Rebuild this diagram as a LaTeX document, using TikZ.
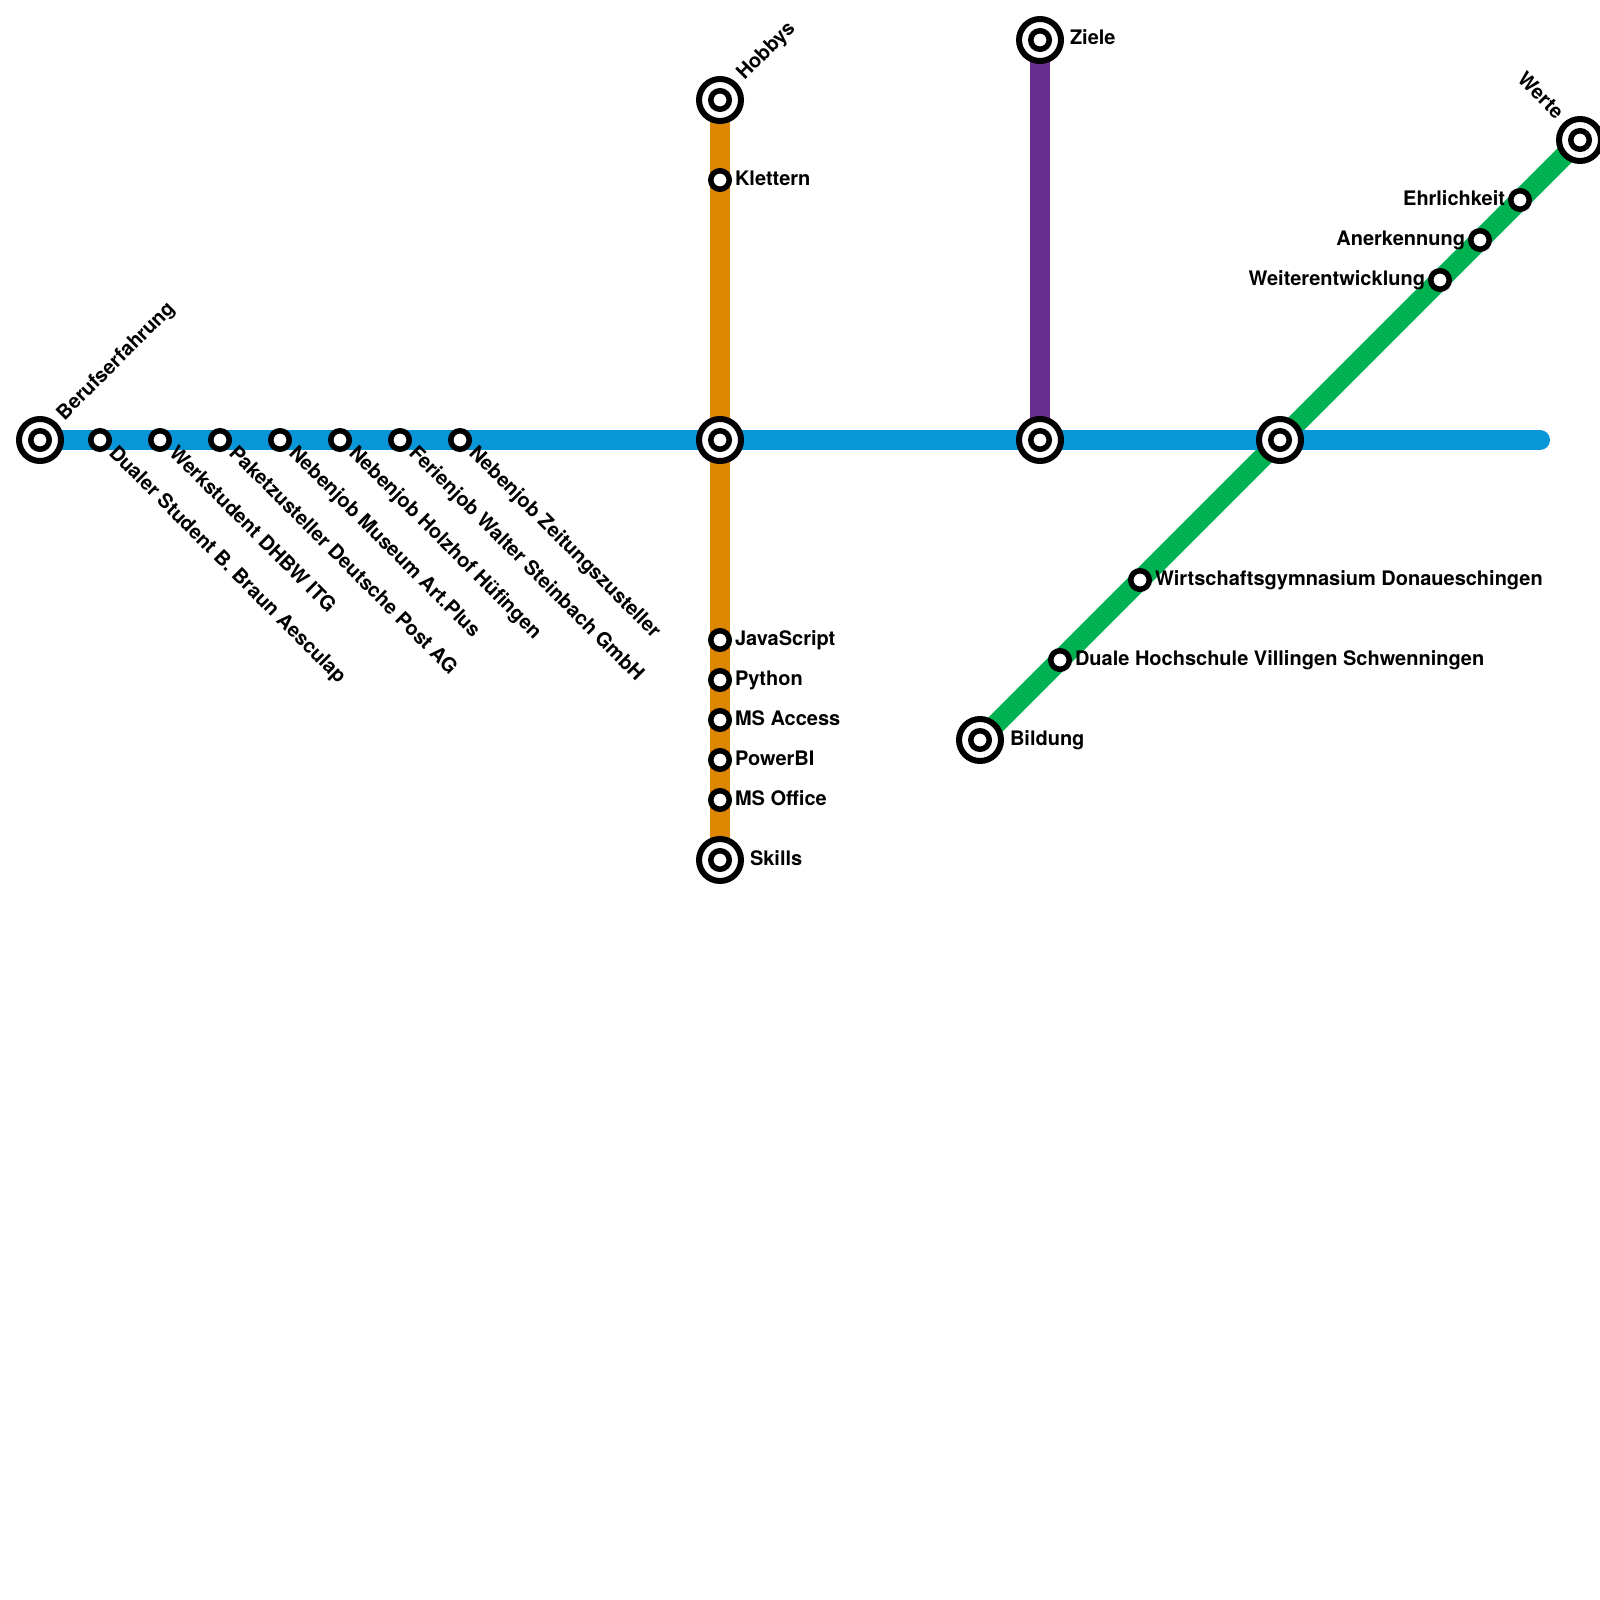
\documentclass[tikz,border=0pt]{standalone}
\usepackage{fontspec}
\usetikzlibrary{calc}
\setmainfont{TeX Gyre Heros}
\definecolor{lblue}{HTML}{0896D7}
\definecolor{lorange}{HTML}{DF8600}
\definecolor{lpurple}{HTML}{662C90}
\definecolor{lgreen}{HTML}{00B251}
\tikzset{
  stn/.style={circle,draw=black,fill=white,line width=5.5pt,inner sep=0pt,outer sep=0pt,minimum size=18.5pt},
  bigstn/.style={circle,draw=black,fill=white,line width=6pt,inner sep=0pt,outer sep=0pt,minimum size=42pt},
  metro/.style={line width=20pt},
  lbl/.style={inner sep=0pt,outer sep=0pt,font=\fontsize{20pt}{22pt}\selectfont\bfseries,text=black},
  lr/.style={lbl,anchor=base west},
  ll/.style={lbl,anchor=base east},
  ldown/.style={lbl,anchor=base west,rotate=-45},
  lup/.style={lbl,anchor=base west,rotate=45},
  lback/.style={lbl,anchor=base east,rotate=-45}
}
\begin{document}
\begin{tikzpicture}[x=1pt,y=-1pt]
\clip (0,0) rectangle (1600,1600);
\fill[white] (0,0) rectangle (1600,1600);
% anchor points
\foreach \n/\x/\y in {beruf/40/440,skillhub/720/440,zielhub/1040/440,bildhub/1280/440,blueend/1540/440,
  hobbys/720/100,skills/720/860,ziele/1040/40,bildung/980/740,werte/1580/140}
  {\coordinate (\n) at (\x,\y);}
% lines
\draw[metro,lpurple] (ziele) -- (zielhub);
\draw[metro,lorange] (hobbys) -- (skills);
\draw[metro,lgreen] (bildung) -- (werte);
\draw[metro,lblue,line cap=round] (beruf) -- (blueend);
% terminals and interchanges
\foreach \n in {beruf,skillhub,zielhub,bildhub,hobbys,skills,ziele,bildung,werte}{
  \node[bigstn] (\n big) at (\n) {};
  \node[stn] (\n in) at (\n) {};
}
% small stations
\foreach \n/\x/\y in {s1/100/440,s2/160/440,s3/220/440,s4/280/440,s5/340/440,s6/400/440,s7/460/440,
  klettern/720/180,js/720/640,py/720/680,acc/720/720,pbi/720/760,off/720/800,
  wg/1140/580,dh/1060/660,wei/1440/280,ane/1480/240,ehr/1520/200}
  {\node[stn] (\n) at (\x,\y) {};}
% labels
\node[lup] (tberuf) at ($(beruf)+(24.5,-19)$) {Berufserfahrung};
\node[lup] (thobbys) at ($(hobbys)+(24.5,-19)$) {Hobbys};
\node[lback] (twerte) at ($(werte)+(-24.5,-20)$) {Werte};
\node[lr] (tziele) at ($(ziele)+(30,5)$) {Ziele};
\node[lr] (tskills) at ($(skills)+(30,5)$) {Skills};
\node[lr] (tbildung) at ($(bildung)+(30,5)$) {Bildung};
\foreach \n/\t in {s1/Dualer Student B. Braun Aesculap,s2/Werkstudent DHBW ITG,s3/Paketzusteller Deutsche Post AG,
  s4/Nebenjob Museum Art.Plus,s5/Nebenjob Holzhof Hüfingen,s6/Ferienjob Walter Steinbach GmbH,s7/Nebenjob Zeitungszusteller}
  {\node[ldown] (t\n) at ($(\n)+(8,14)$) {\t};}
\foreach \n/\t in {klettern/Klettern,js/JavaScript,py/Python,acc/MS Access,pbi/PowerBI,off/MS Office,
  wg/Wirtschaftsgymnasium Donaueschingen,dh/Duale Hochschule Villingen Schwenningen}
  {\node[lr] (t\n) at ($(\n)+(15,5)$) {\t};}
\foreach \n/\t in {wei/Weiterentwicklung,ane/Anerkennung,ehr/Ehrlichkeit}
  {\node[ll] (t\n) at ($(\n)+(-15,5)$) {\t};}
\end{tikzpicture}
\end{document}
